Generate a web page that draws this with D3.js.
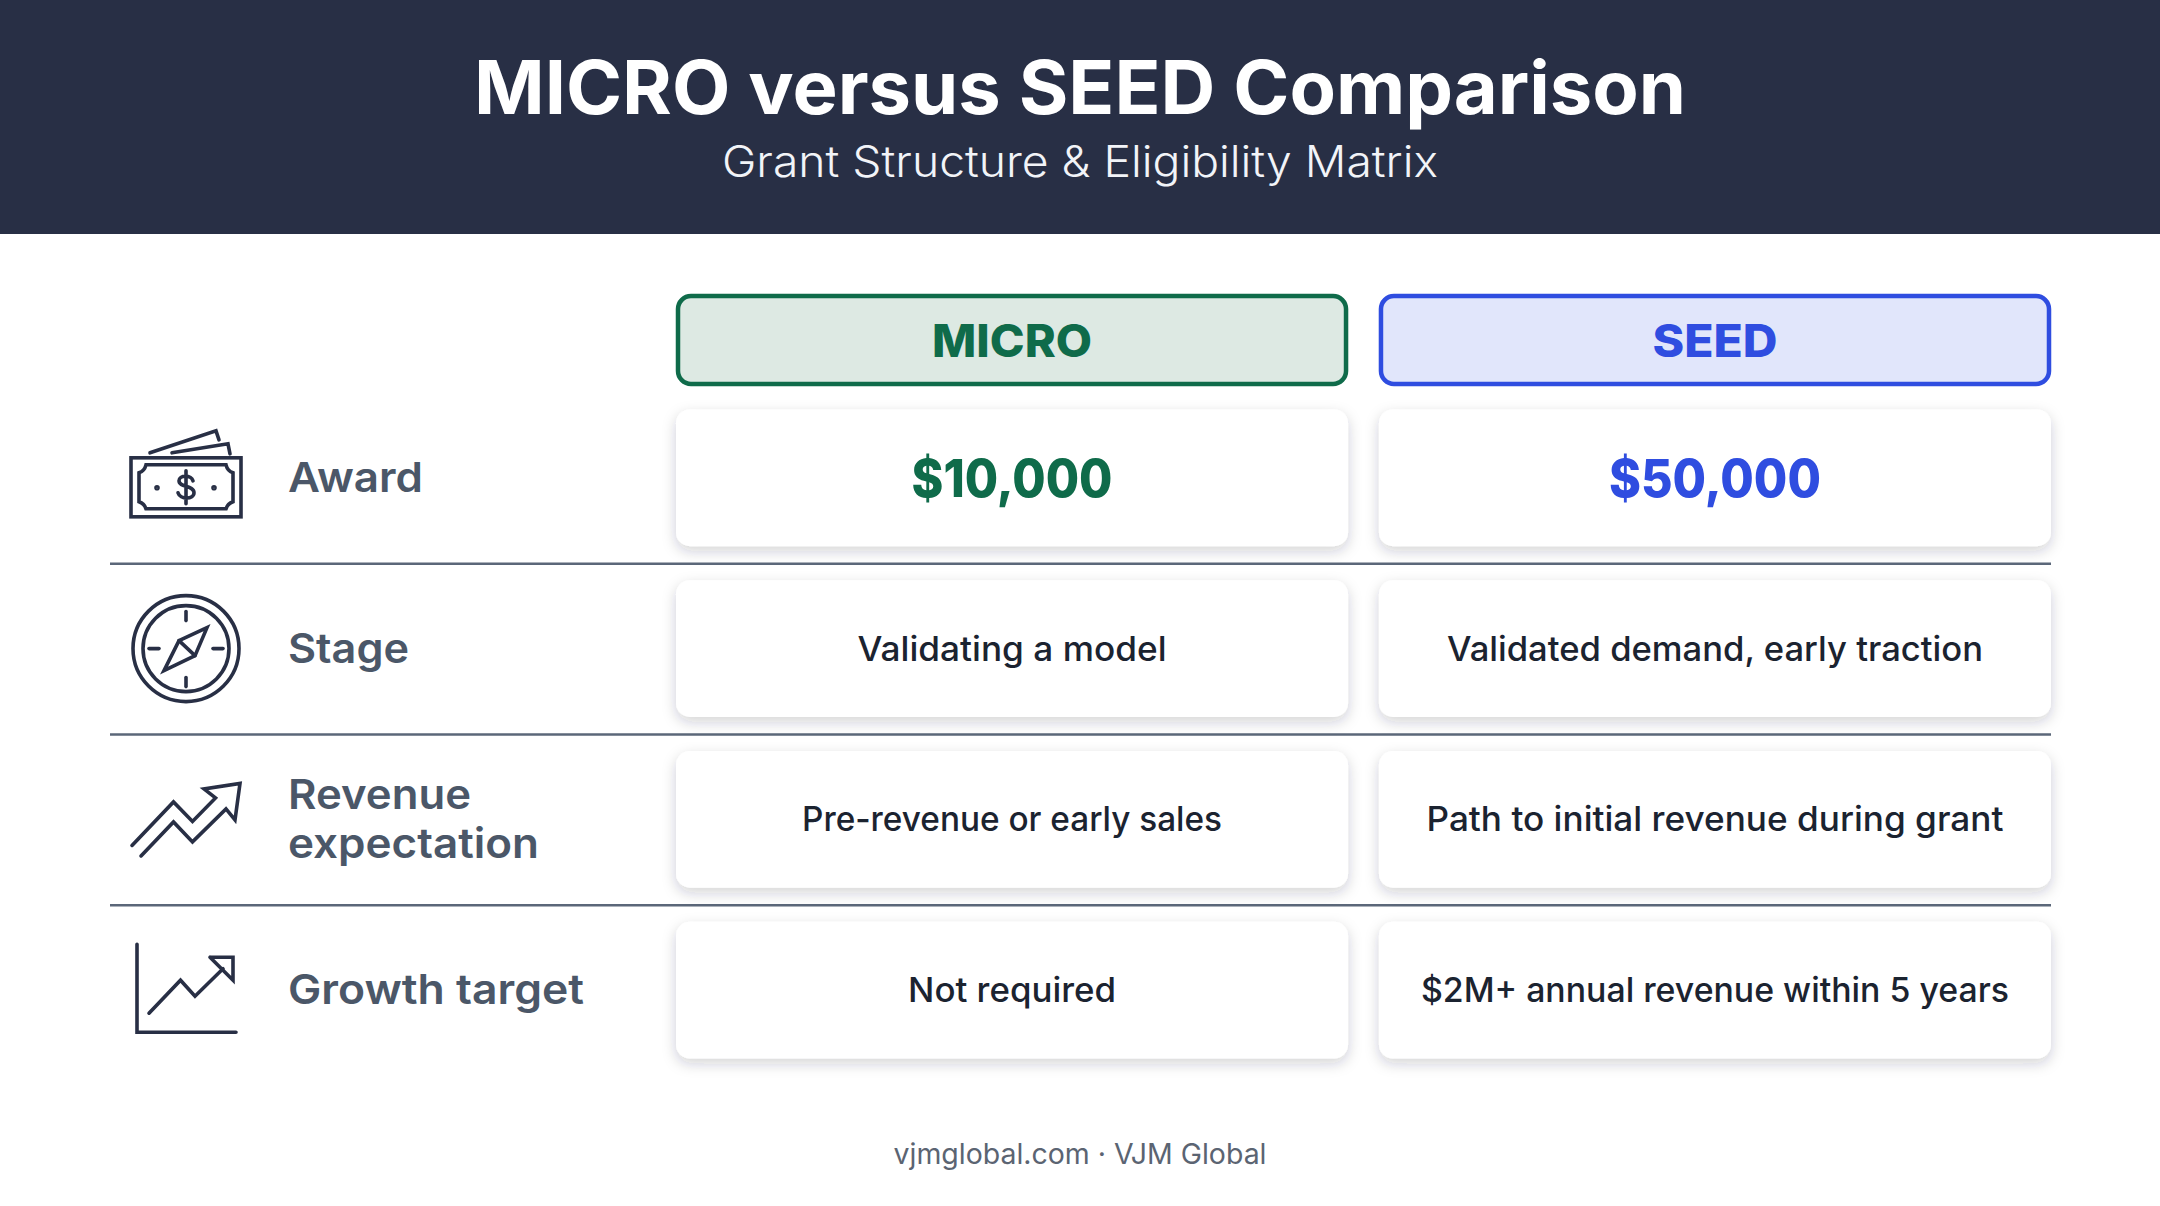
<!DOCTYPE html>
<html>
<head>
<meta charset="utf-8">
<script src="https://cdn.jsdelivr.net/npm/d3@7"></script>
<style>
  body { margin: 0; background: #fff; }
  svg { display: block; }
  text { font-family: Inter, "Noto Sans", sans-serif; }
</style>
</head>
<body>
<div id="chart"></div>
<script>
// ---- data ----
const title = 'MICRO versus SEED Comparison';
const subtitle = 'Grant Structure & Eligibility Matrix';
const footer = 'vjmglobal.com · VJM Global';
const plans = ['MICRO', 'SEED'];
const categories = ['Award', 'Stage', 'Revenue expectation', 'Growth target'];
const categoryLines = [['Award'], ['Stage'], ['Revenue', 'expectation'], ['Growth target']];
const microValues = ['$10,000', 'Validating a model', 'Pre-revenue or early sales', 'Not required'];
const seedValues = ['$50,000', 'Validated demand, early traction', 'Path to initial revenue during grant', '$2M+ annual revenue within 5 years'];

// ---- measured text widths, the installed fonts are narrower than the original ----
const fitWidths = {
    'MICRO versus SEED Comparison': 1212, 'Grant Structure & Eligibility Matrix': 716,
    'vjmglobal.com · VJM Global': 373, 'MICRO': 160, 'SEED': 125,
    'Award': 135, 'Stage': 121, 'Revenue': 183, 'expectation': 251, 'Growth target': 296,
    '$10,000': 201, '$50,000': 212,
    'Validating a model': 309, 'Validated demand, early traction': 536,
    'Pre-revenue or early sales': 420, 'Path to initial revenue during grant': 577,
    'Not required': 208, '$2M+ annual revenue within 5 years': 588
};

const width = 2160, height = 1206;
const navy = '#282f45', slate = '#4b5768', ink = '#1b2330';
const planStyle = {
    MICRO: { stroke: '#0f6b4a', fill: '#dde9e3' },
    SEED: { stroke: '#2f4de0', fill: '#e1e6fb' }
};

const svg = d3.select('#chart').append('svg')
    .attr('width', width)
    .attr('height', height)
    .attr('viewBox', '0 0 ' + width + ' ' + height);

const defs = svg.append('defs');
const shadow = defs.append('filter').attr('id', 'cardShadow')
    .attr('x', '-5%').attr('y', '-15%').attr('width', '110%').attr('height', '140%');
shadow.append('feDropShadow')
    .attr('dx', 0).attr('dy', 5).attr('stdDeviation', 7)
    .attr('flood-color', '#1f2733').attr('flood-opacity', 0.2);

// scales for the table grid
const x = d3.scaleBand().domain(plans).range([676, 2051]).paddingInner(0.044);
const y = d3.scaleBand().domain(categories).range([409.5, 1058.5]).paddingInner(0.2);

function fitText(sel, t, size, weight, color, px, py, anchor) {
    return sel.append('text')
        .text(t)
        .attr('x', px)
        .attr('y', py)
        .attr('font-size', size)
        .attr('font-weight', weight)
        .attr('fill', color)
        .attr('text-anchor', anchor || 'middle')
        .attr('textLength', fitWidths[t])
        .attr('lengthAdjust', 'spacingAndGlyphs');
}

//-----Header-------
svg.append('rect').attr('width', width).attr('height', 234).attr('fill', navy);
fitText(svg, title, 74, 700, '#ffffff', 1080, 114);
fitText(svg, subtitle, 43, 300, '#f2f4f8', 1080, 177);

//-----Plan headers-------
const planGroup = svg.selectAll('.plan').data(plans).enter().append('g').attr('class', 'plan');
planGroup.append('rect')
    .attr('x', d => x(d) + 2)
    .attr('y', 296)
    .attr('width', x.bandwidth() - 4)
    .attr('height', 88)
    .attr('rx', 13)
    .attr('fill', d => planStyle[d].fill)
    .attr('stroke', d => planStyle[d].stroke)
    .attr('stroke-width', 4.5);
planGroup.each(function (d) {
    fitText(d3.select(this), d, 45, 800, planStyle[d].stroke, x(d) + x.bandwidth() / 2, 357);
});

//-----Separators-------
svg.selectAll('.sep').data(categories.slice(0, -1)).enter().append('line')
    .attr('class', 'sep')
    .attr('x1', 110)
    .attr('x2', 2051)
    .attr('y1', d => y(d) + y.bandwidth() + 17.5)
    .attr('y2', d => y(d) + y.bandwidth() + 17.5)
    .attr('stroke', '#5b6779')
    .attr('stroke-width', 2.5);

//-----Cards-------
plans.forEach(function (plan, p) {
    const values = p === 0 ? microValues : seedValues;
    categories.forEach(function (cat, i) {
        svg.append('rect')
            .attr('x', x(plan))
            .attr('y', y(cat))
            .attr('width', x.bandwidth())
            .attr('height', y.bandwidth())
            .attr('rx', 14)
            .attr('fill', '#fff')
            .attr('filter', 'url(#cardShadow)');
        const isAward = i === 0;
        fitText(svg, values[i], isAward ? 52 : 34, isAward ? 800 : 450,
            isAward ? planStyle[plan].stroke : ink,
            x(plan) + x.bandwidth() / 2,
            y(cat) + y.bandwidth() / 2 + (isAward ? 19 : 12));
    });
});

//-----Row labels-------
categories.forEach(function (cat, i) {
    const mid = y(cat) + y.bandwidth() / 2;
    const lines = categoryLines[i];
    lines.forEach(function (line, j) {
        fitText(svg, line, 41, 600, slate, 288, mid + 14 + (j - (lines.length - 1) / 2) * 49, 'start');
    });
});

//-----Icons (local coordinates, origin at icon centre on the row midline)-------
const path = d3.line();
function iconGroup(cat) {
    return svg.append('g')
        .attr('transform', 'translate(186,' + (y(cat) + y.bandwidth() / 2) + ')')
        .attr('fill', 'none')
        .attr('stroke', navy)
        .attr('stroke-width', 3.6)
        .attr('stroke-linejoin', 'miter')
        .attr('stroke-linecap', 'round');
}

// money
const money = iconGroup('Award');
money.append('rect').attr('x', -55).attr('y', -20).attr('width', 110).attr('height', 59);
money.append('path').attr('d', 'M-40,-13 H40 C41,-9 44,-6 47,-5 V24 C44,25 41,28 40,31 H-40 C-41,28 -44,25 -47,24 V-5 C-44,-6 -41,-9 -40,-13 Z');
money.append('path').attr('d', path([[-36, -25], [30, -47], [33, -38]]));
money.append('path').attr('d', path([[-14, -25], [42, -34], [44, -24]]));
money.append('path').attr('d', 'M7,3 C5,-3 -7,-3 -7,3 C-7,10 8,7 8,15 C8,22 -6,22 -8,15 M0,-7 V26');
money.append('circle').attr('cx', -29).attr('cy', 10).attr('r', 1).attr('fill', navy);
money.append('circle').attr('cx', 28).attr('cy', 10).attr('r', 1).attr('fill', navy);

// compass
const compass = iconGroup('Stage');
compass.append('circle').attr('r', 53);
compass.append('circle').attr('r', 43);
[[[0, -37], [0, -28]], [[0, 29], [0, 38]], [[-37, 0], [-27, 0]], [[27, 0], [37, 0]]].forEach(function (t) {
    compass.append('path').attr('d', path(t));
});
compass.append('path').attr('d', path([[21, -21], [9, 7], [-22, 22], [-7, -8]]) + 'Z');
compass.append('path').attr('d', path([[-7, -8], [9, 7]]));

// revenue arrow
const revenue = iconGroup('Revenue expectation');
revenue.append('path').attr('d', path([[-54, 26], [-12.5, -17.5], [6.5, 2], [29.5, -21.5], [18, -30.5], [54, -36], [49, 0.5], [40, -10.5], [6.5, 22.5], [-12.5, 2.5], [-45, 36.5]]));

// growth chart
const growth = iconGroup('Growth target');
growth.append('path').attr('d', path([[-49, -46], [-49, 42], [50, 42]]));
growth.append('path').attr('d', path([[-37, 23], [-5.5, -10], [9, 6], [37, -21.5]]));
growth.append('path').attr('d', path([[24, -33], [47, -33], [47, -10], [24, -33]]));

//-----Footer-------
fitText(svg, footer, 28, 400, '#5b6472', 1080, 1164);
</script>
</body>
</html>
